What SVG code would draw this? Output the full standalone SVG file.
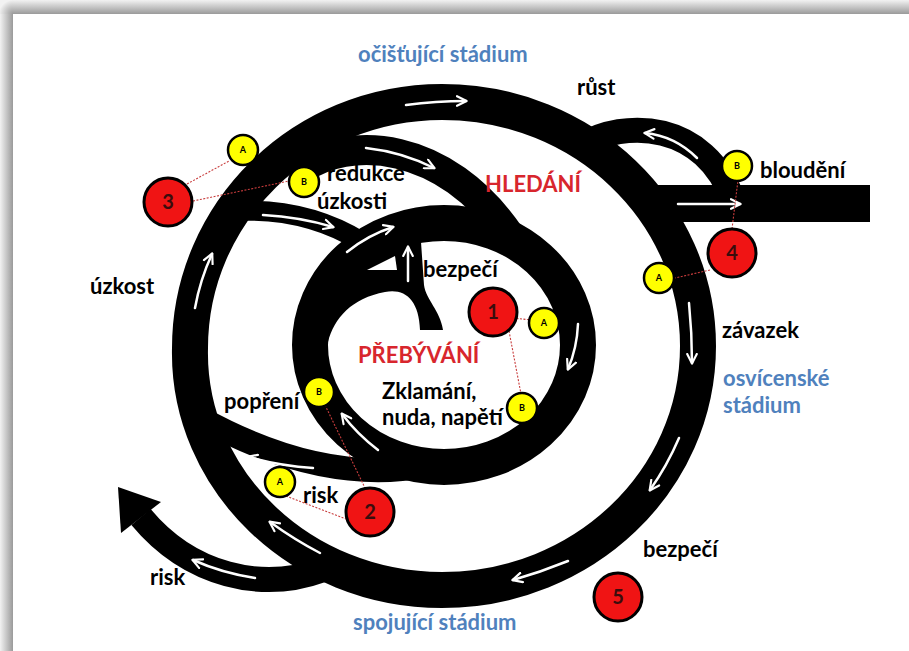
<svg xmlns="http://www.w3.org/2000/svg" width="909" height="651" viewBox="0 0 909 651">
<style>
.road{fill:none;stroke:#000;stroke-linecap:butt}
.arr{fill:none;stroke:#fff;stroke-width:2.5;stroke-linecap:round;marker-end:url(#ah)}
.lnk{fill:none;stroke:#c83c3c;stroke-width:1.1;stroke-dasharray:2 1.5}
.red{fill:#f01414;stroke:#000;stroke-width:3}
.yel{fill:#ffff00;stroke:#000;stroke-width:2.5}
.num{font-family:Lato,"Liberation Sans",sans-serif;font-weight:700;font-size:20px;fill:#3a0d0d;text-anchor:middle}
.let{font-family:Lato,"Liberation Sans",sans-serif;font-weight:700;font-size:9px;fill:#000;text-anchor:middle}
.t{font-family:Lato,"Liberation Sans",sans-serif;font-weight:700;font-size:22px;fill:#000}
.blue{fill:#4f81bd}
.rt{fill:#d8262d}
</style>
<defs>
<marker id="ah" viewBox="0 0 10 10" refX="8.5" refY="5" markerWidth="12" markerHeight="12" markerUnits="userSpaceOnUse" orient="auto">
<path d="M1,1 L9,5 L1,9" fill="none" stroke="#fff" stroke-width="1.8" stroke-linecap="round" stroke-linejoin="round"/>
</marker>
<linearGradient id="gt" x1="0" y1="0" x2="0" y2="1"><stop offset="0" stop-color="#f2f2f2"/><stop offset="1" stop-color="#9a9a9a"/></linearGradient>
<linearGradient id="gl" x1="0" y1="0" x2="1" y2="0"><stop offset="0" stop-color="#f2f2f2"/><stop offset="1" stop-color="#9a9a9a"/></linearGradient>
<radialGradient id="gc" cx="13" cy="14" r="14" gradientUnits="userSpaceOnUse"><stop offset="0" stop-color="#9a9a9a"/><stop offset="1" stop-color="#f2f2f2"/></radialGradient>
</defs>
<rect x="0" y="0" width="909" height="651" fill="#fff"/>
<g id="frame">
<rect x="13" y="0" width="896" height="14" fill="url(#gt)"/>
<rect x="0" y="14" width="13" height="637" fill="url(#gl)"/>
<rect x="0" y="0" width="13" height="14" fill="url(#gc)"/>
</g>
<g id="roads">
<path class="road" d="M442 102 C583.4 102 698 211.2 698 346 C698 480.8 583.4 590 442 590 C300.6 590 187 480 190 348 C190 213 302 102 442 102 Z" stroke-width="36"/>
<ellipse class="road" cx="444" cy="345" rx="134" ry="122" stroke-width="36"/>
<path class="road" d="M300 170 C348 135 445 140 510 236" stroke-width="30"/>
<path class="road" d="M236 211 C278 209 320 216 362 242" stroke-width="20"/>
<path class="road" d="M425 466 C360 478 285 465 200 418" stroke-width="24"/>
<path class="road" d="M322 570 C262 592 190 576 141 517" stroke-width="25"/>
<polygon points="118,487 161,502 121,533" fill="#000"/>
<path class="road" d="M580 146 C625 118 705 122 733 200" stroke-width="25"/>
<rect x="650" y="185" width="220" height="37" fill="#000"/>
<path d="M328 342 C334 318 352 298 385 292 C405 288 419 300 420 330 L443 330 C440 310 426 300 424 285 L421 242 L400 232 L370 245 L345 265 L325 300 Z" fill="#000"/>
<polygon points="367,270 395,256 397,270" fill="#fff"/>
</g>
<g id="flow-arrows">
<path class="arr" d="M406 105 Q436 101 466 101"/>
<path class="arr" d="M689 303 Q692 333 692 363"/>
<path class="arr" d="M679 438 Q667 466 650 490"/>
<path class="arr" d="M568 561 Q541 572 513 580"/>
<path class="arr" d="M320 553 Q295 540 270 522"/>
<path class="arr" d="M195 308 Q200 280 212 254"/>
<path class="arr" d="M697 158 Q675 136 645 133"/>
<path class="arr" d="M678 204 L740 204"/>
<path class="arr" d="M366 148 Q402 152 434 168"/>
<path class="arr" d="M263 215 Q300 217 333 227"/>
<path class="arr" d="M347 252 Q368 235 393 227"/>
<path class="arr" d="M408 281 L408 247"/>
<path class="arr" d="M578 324 Q577 348 568 369"/>
<path class="arr" d="M378 450 Q357 434 342 414"/>
<path class="arr" d="M313 468 Q280 466 248 457"/>
<path class="arr" d="M255 578 Q222 573 193 560"/>
</g>
<g id="connectors">
<line class="lnk" x1="187" y1="184" x2="229" y2="161"/>
<line class="lnk" x1="193" y1="201" x2="289" y2="181"/>
<line class="lnk" x1="710" y1="270" x2="675" y2="278"/>
<line class="lnk" x1="732" y1="229" x2="738" y2="180"/>
<line class="lnk" x1="513" y1="318" x2="531" y2="320"/>
<line class="lnk" x1="509" y1="331" x2="521" y2="394"/>
<line class="lnk" x1="325" y1="405" x2="365" y2="488"/>
<line class="lnk" x1="286" y1="496" x2="346" y2="519"/>
</g>
<g id="node-1"><circle class="red" cx="493" cy="312" r="24"/><text class="num" x="493" y="319">1</text></g>
<g id="node-1A"><circle class="yel" cx="544" cy="323" r="15"/><text class="let" x="544" y="326">A</text></g>
<g id="node-1B"><circle class="yel" cx="522" cy="408" r="15"/><text class="let" x="522" y="411">B</text></g>
<g id="node-2"><circle class="red" cx="370" cy="512" r="24"/><text class="num" x="370" y="519">2</text></g>
<g id="node-2A"><circle class="yel" cx="280" cy="482" r="15"/><text class="let" x="280" y="485">A</text></g>
<g id="node-2B"><circle class="yel" cx="319" cy="392" r="15"/><text class="let" x="319" y="395">B</text></g>
<g id="node-3"><circle class="red" cx="168" cy="202" r="24"/><text class="num" x="168" y="209">3</text></g>
<g id="node-3A"><circle class="yel" cx="243" cy="150" r="15"/><text class="let" x="243" y="153">A</text></g>
<g id="node-3B"><circle class="yel" cx="304" cy="182" r="15"/><text class="let" x="304" y="185">B</text></g>
<g id="node-4"><circle class="red" cx="732" cy="253" r="24"/><text class="num" x="732" y="260">4</text></g>
<g id="node-4A"><circle class="yel" cx="659" cy="278" r="15"/><text class="let" x="659" y="281">A</text></g>
<g id="node-4B"><circle class="yel" cx="737" cy="166" r="15"/><text class="let" x="737" y="169">B</text></g>
<g id="node-5"><circle class="red" cx="618" cy="597" r="24"/><text class="num" x="618" y="604">5</text></g>
<g id="labels">
<text class="t blue" x="358" y="62">očišťující stádium</text>
<text class="t" x="577" y="95">růst</text>
<text class="t rt" x="485" y="192">HLEDÁNÍ</text>
<text class="t" x="327" y="181">redukce</text>
<text class="t" x="317" y="209">úzkosti</text>
<text class="t" x="760" y="178">bloudění</text>
<text class="t" x="90" y="294">úzkost</text>
<text class="t" x="423" y="277">bezpečí</text>
<text class="t" x="722" y="338">závazek</text>
<text class="t blue" x="723" y="386">osvícenské</text>
<text class="t blue" x="723" y="413">stádium</text>
<text class="t rt" x="358" y="363">PŘEBÝVÁNÍ</text>
<text class="t" x="382" y="399">Zklamání,</text>
<text class="t" x="382" y="425">nuda, napětí</text>
<text class="t" x="224" y="409">popření</text>
<text class="t" x="303" y="503">risk</text>
<text class="t" x="150" y="585">risk</text>
<text class="t" x="643" y="557">bezpečí</text>
<text class="t blue" x="353" y="630">spojující stádium</text>
</g>
</svg>
